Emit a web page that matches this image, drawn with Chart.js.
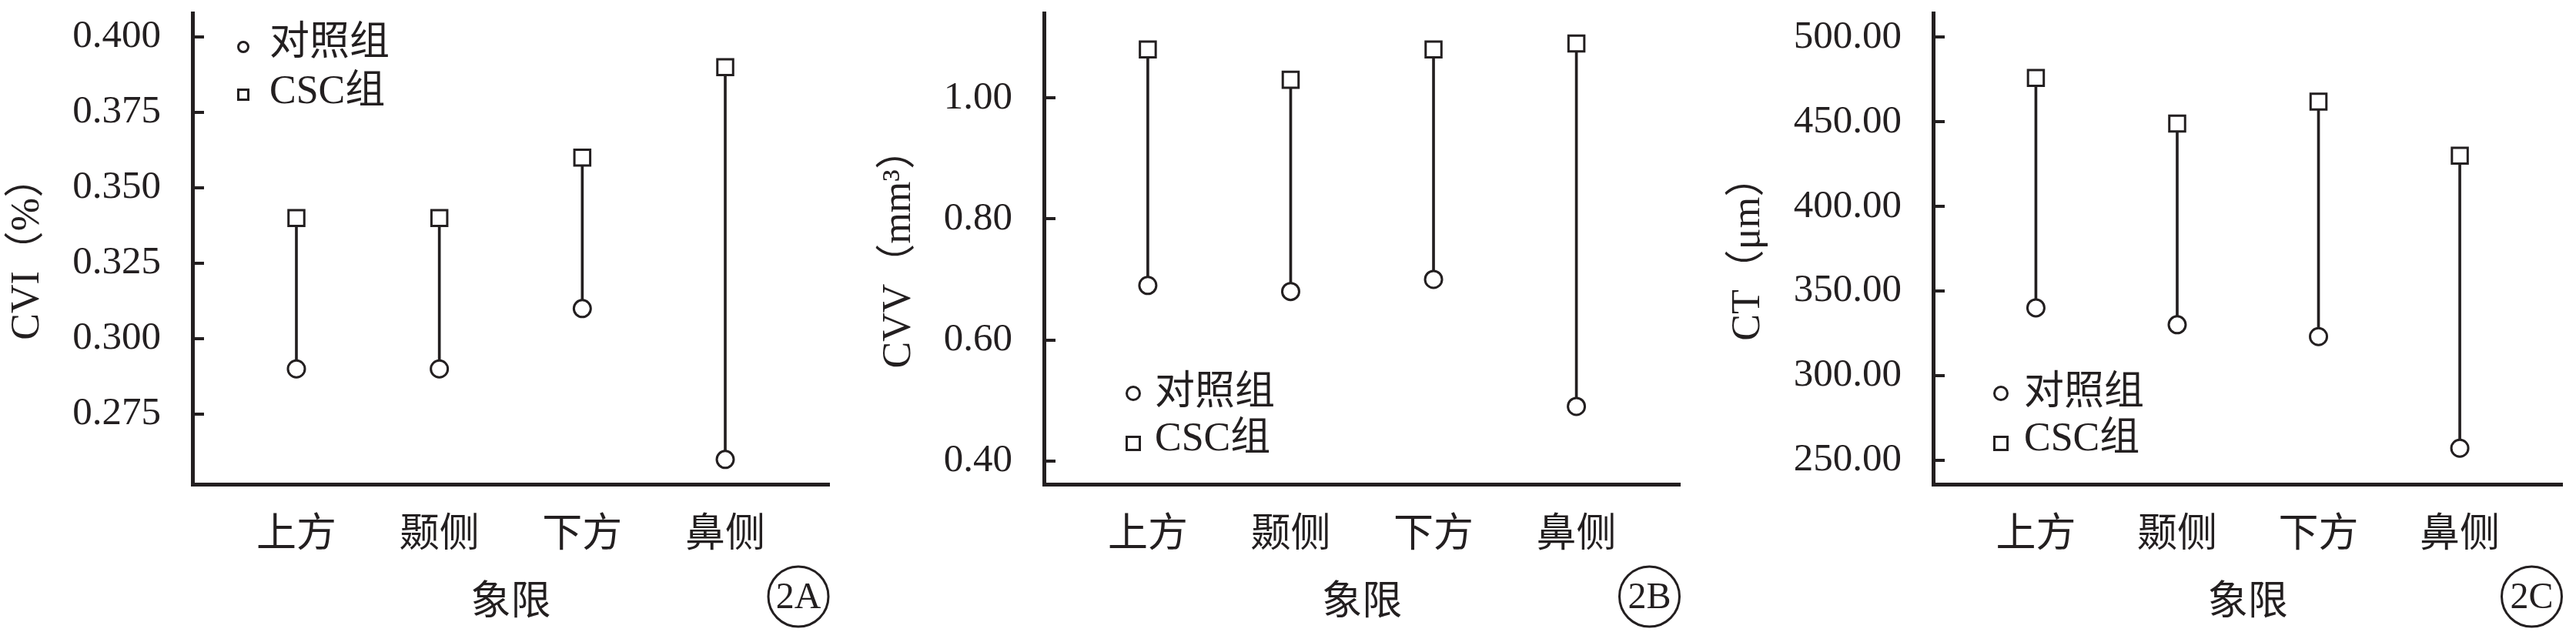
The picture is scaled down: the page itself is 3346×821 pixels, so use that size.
<!DOCTYPE html>
<html>
<head>
<meta charset="utf-8">
<script src="https://cdn.jsdelivr.net/npm/chart.js@4.4.1/dist/chart.umd.min.js"></script>
<style>
  html, body { margin: 0; padding: 0; background: #fff; }
  body { width: 3346px; height: 821px; position: relative; overflow: hidden; }
  .panel { position: absolute; top: 0; height: 821px; }
</style>
</head>
<body>
<div class="panel" style="left:5px;width:1095px"><canvas id="chartA"></canvas></div>
<div class="panel" style="left:1137px;width:1063px"><canvas id="chartB"></canvas></div>
<div class="panel" style="left:2240px;width:1106px"><canvas id="chartC"></canvas></div>
<script>
const quadrants = ['上方', '颞侧', '下方', '鼻侧'];
const seriesNames = ['对照组', 'CSC组'];

const cviControl = [0.29, 0.29, 0.31, 0.26];
const cviCSC = [0.34, 0.34, 0.36, 0.39];
const cviTicks = [0.275, 0.300, 0.325, 0.350, 0.375, 0.400];

const cvvControl = [0.69, 0.68, 0.70, 0.49];
const cvvCSC = [1.08, 1.03, 1.08, 1.09];
const cvvTicks = [0.40, 0.60, 0.80, 1.00];

const ctControl = [340, 330, 323, 257];
const ctCSC = [476, 449, 462, 430];
const ctTicks = [250, 300, 350, 400, 450, 500];

const ink = '#231f20';
const serif = "'Liberation Serif', 'Noto Sans CJK SC', serif";

// inward y ticks, legend and the circled panel tag
const panelDecor = {
  id: 'panelDecor',
  afterDraw(chart, args, opts) {
    const { ctx, chartArea, scales } = chart;
    ctx.save();
    ctx.strokeStyle = ink;
    ctx.lineWidth = 4;
    scales.y.ticks.forEach(t => {
      const py = Math.round(scales.y.getPixelForValue(t.value));
      ctx.beginPath();
      ctx.moveTo(chartArea.left, py);
      ctx.lineTo(chartArea.left + 15, py);
      ctx.stroke();
    });

    // legend
    ctx.lineWidth = 3;
    ctx.fillStyle = ink;
    ctx.font = '52px ' + serif;
    ctx.textBaseline = 'middle';
    ctx.textAlign = 'left';
    const r = opts.markerSize / 2;
    [1, 2].forEach((di, row) => {
      const ds = chart.data.datasets[di];
      const mx = opts.markerX, my = opts.markerY[row];
      ctx.beginPath();
      if (ds.pointStyle === 'circle') {
        ctx.arc(mx, my, r, 0, Math.PI * 2);
      } else {
        ctx.rect(mx - r, my - r, 2 * r, 2 * r);
      }
      ctx.stroke();
      ctx.fillText(ds.label, opts.textX, opts.textY[row]);
    });

    // tag
    const cx = chartArea.right - 40, cy = 775;
    ctx.beginPath();
    ctx.arc(cx, cy, 39, 0, Math.PI * 2);
    ctx.lineWidth = 3;
    ctx.stroke();
    ctx.font = '48px ' + serif;
    ctx.textAlign = 'center';
    ctx.fillText(opts.tag, cx, cy + 2);
    ctx.restore();
  }
};

function makePanel(id, cfg) {
  const rangeData = quadrants.map((q, i) => ({ x: i + 1, y: [cfg.control[i], cfg.csc[i]] }));
  return new Chart(document.getElementById(id), {
    type: 'scatter',
    data: {
      datasets: [
        {
          type: 'bar',
          data: rangeData,
          backgroundColor: ink,
          borderWidth: 0,
          barThickness: 3,
          order: 3
        },
        {
          label: seriesNames[0],
          data: cfg.control.map((v, i) => ({ x: i + 1, y: v })),
          pointStyle: 'circle',
          pointRadius: 11,
          pointBorderWidth: 3,
          pointBackgroundColor: '#fff',
          pointBorderColor: ink,
          order: 1
        },
        {
          label: seriesNames[1],
          data: cfg.csc.map((v, i) => ({ x: i + 1, y: v })),
          pointStyle: 'rect',
          pointRadius: 14.5,
          pointBorderWidth: 3,
          pointBackgroundColor: '#fff',
          pointBorderColor: ink,
          order: 2
        }
      ]
    },
    options: {
      responsive: true,
      maintainAspectRatio: false,
      animation: false,
      layout: { padding: { top: 4, right: cfg.padRight, left: 0, bottom: 0 } },
      scales: {
        x: {
          type: 'linear',
          min: 0.273,
          max: 4.727,
          offset: false,
          afterBuildTicks: axis => { axis.ticks = quadrants.map((q, i) => ({ value: i + 1 })); },
          afterFit: axis => {
            axis.height = 192;
            axis.paddingLeft = 0;
            axis.paddingRight = 0;
          },
          grid: { display: false, drawTicks: false },
          border: { display: true, width: 5, color: ink },
          ticks: {
            color: ink,
            padding: 36,
            maxRotation: 0,
            autoSkip: false,
            font: { family: serif, size: 52, lineHeight: 1.2 },
            callback: v => quadrants[v - 1]
          },
          title: {
            display: true,
            text: '象限',
            color: ink,
            padding: { top: 0, bottom: 5 },
            font: { family: serif, size: 52, lineHeight: 1.2 }
          }
        },
        y: {
          type: 'linear',
          min: cfg.min,
          max: cfg.max,
          afterBuildTicks: axis => { axis.ticks = cfg.ticks.map(v => ({ value: v })); },
          afterFit: axis => {
            axis.width = cfg.yWidth;
            axis.paddingTop = 0;
            axis.paddingBottom = 0;
          },
          grid: { display: false, drawTicks: false },
          border: { display: true, width: 5, color: ink },
          ticks: {
            color: ink,
            padding: 41,
            font: { family: serif, size: 51 },
            callback: v => v.toFixed(cfg.digits)
          },
          title: {
            display: true,
            text: cfg.title,
            color: ink,
            padding: { top: 0, bottom: 0 },
            font: { family: serif, size: 52, lineHeight: 1.2 }
          }
        }
      },
      plugins: {
        legend: { display: false },
        tooltip: { enabled: false },
        panelDecor: cfg.decor
      }
    },
    plugins: [panelDecor]
  });
}

makePanel('chartA', {
  control: cviControl, csc: cviCSC, ticks: cviTicks, digits: 3,
  min: 0.2518, max: 0.4078, yWidth: 245, padRight: 23, title: 'CVI（%）',
  decor: { tag: '2A', markerSize: 13, markerX: 311, markerY: [61, 123], textX: 345, textY: [57, 120] }
});

makePanel('chartB', {
  control: cvvControl, csc: cvvCSC, ticks: cvvTicks, digits: 2,
  min: 0.3614, max: 1.1396, yWidth: 219, padRight: 17, title: 'CVV（mm³）',
  decor: { tag: '2B', markerSize: 17, markerX: 335, markerY: [511, 576], textX: 363, textY: [511, 571] }
});

makePanel('chartC', {
  control: ctControl, csc: ctCSC, ticks: ctTicks, digits: 2,
  min: 235.7, max: 514.1, yWidth: 271, padRight: 10, title: 'CT（μm）',
  decor: { tag: '2C', markerSize: 17, markerX: 359, markerY: [511, 576], textX: 389, textY: [511, 571] }
});
</script>
</body>
</html>
